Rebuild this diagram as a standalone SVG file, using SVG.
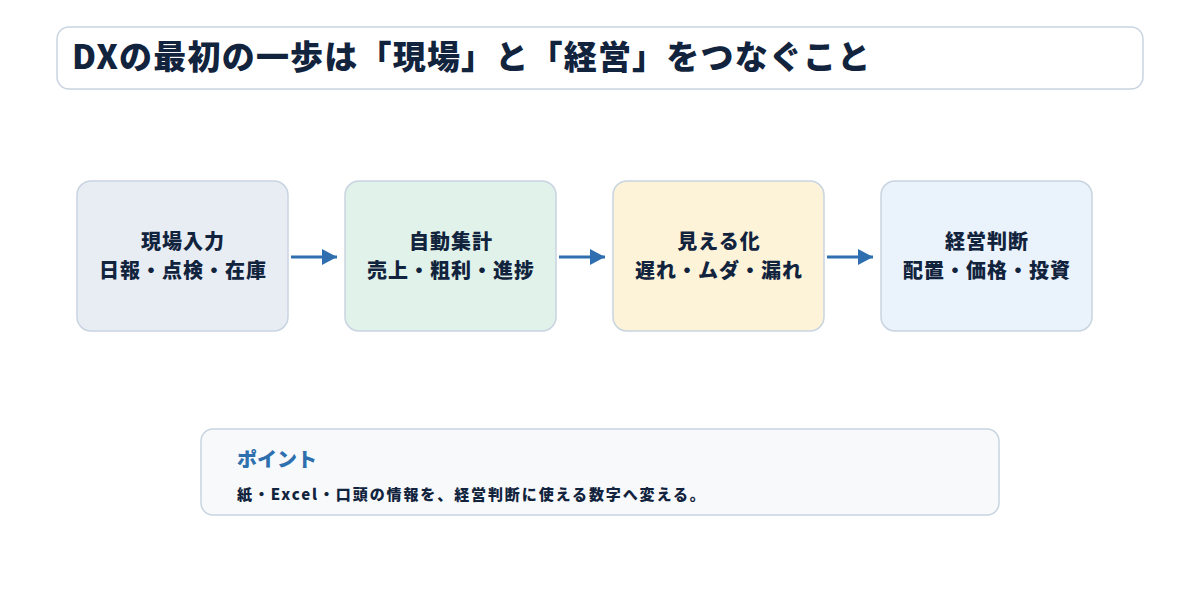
<svg xmlns="http://www.w3.org/2000/svg" width="1200" height="608" viewBox="0 0 1200 608">
<defs>
<style>
text{font-family:"Noto Sans CJK JP","Noto Sans",sans-serif;font-weight:900;fill:#12243d}
.box{stroke:#c9d4e1;stroke-width:1.5}
.lbl{font-size:20px;text-anchor:middle;letter-spacing:1px}
.conn{stroke:#2f6fb0;stroke-width:3;fill:none;marker-end:url(#ah)}
</style>
<marker id="ah" viewBox="0 0 10 10" refX="10" refY="5" markerWidth="5" markerHeight="5.3" markerUnits="strokeWidth" orient="auto" preserveAspectRatio="none">
<path d="M0,0 L10,5 L0,10 z" fill="#2f6fb0"/>
</marker>
</defs>
<rect width="1200" height="608" fill="#ffffff"/>
<g id="title">
<rect class="box" x="57" y="27" width="1086" height="62" rx="12" fill="#ffffff"/>
<text x="72" y="69" font-size="33" letter-spacing="1.2">DXの最初の一歩は「現場」と「経営」をつなぐこと</text>
</g>
<g id="node1">
<rect class="box" x="77" y="181" width="211" height="150" rx="14" fill="#e8edf4"/>
<text class="lbl" x="183" y="249">現場入力</text>
<text class="lbl" x="183" y="278">日報・点検・在庫</text>
</g>
<g id="node2">
<rect class="box" x="345" y="181" width="211" height="150" rx="14" fill="#e0f2ea"/>
<text class="lbl" x="451" y="249">自動集計</text>
<text class="lbl" x="451" y="278">売上・粗利・進捗</text>
</g>
<g id="node3">
<rect class="box" x="613" y="181" width="211" height="150" rx="14" fill="#fdf3d8"/>
<text class="lbl" x="719" y="249">見える化</text>
<text class="lbl" x="719" y="278">遅れ・ムダ・漏れ</text>
</g>
<g id="node4">
<rect class="box" x="881" y="181" width="211" height="150" rx="14" fill="#eaf3fb"/>
<text class="lbl" x="987" y="249">経営判断</text>
<text class="lbl" x="987" y="278">配置・価格・投資</text>
</g>
<g id="connectors">
<line class="conn" x1="291" y1="257" x2="337" y2="257"/>
<line class="conn" x1="559" y1="257" x2="605" y2="257"/>
<line class="conn" x1="827" y1="257" x2="873" y2="257"/>
</g>
<g id="point">
<rect class="box" x="201" y="429" width="798" height="86" rx="12" fill="#f7f9fb"/>
<text x="237" y="467" font-size="20" style="fill:#2e6fad">ポイント</text>
<text x="237" y="500" font-size="15" letter-spacing="1.9">紙・Excel・口頭の情報を、経営判断に使える数字へ変える。</text>
</g>
</svg>
